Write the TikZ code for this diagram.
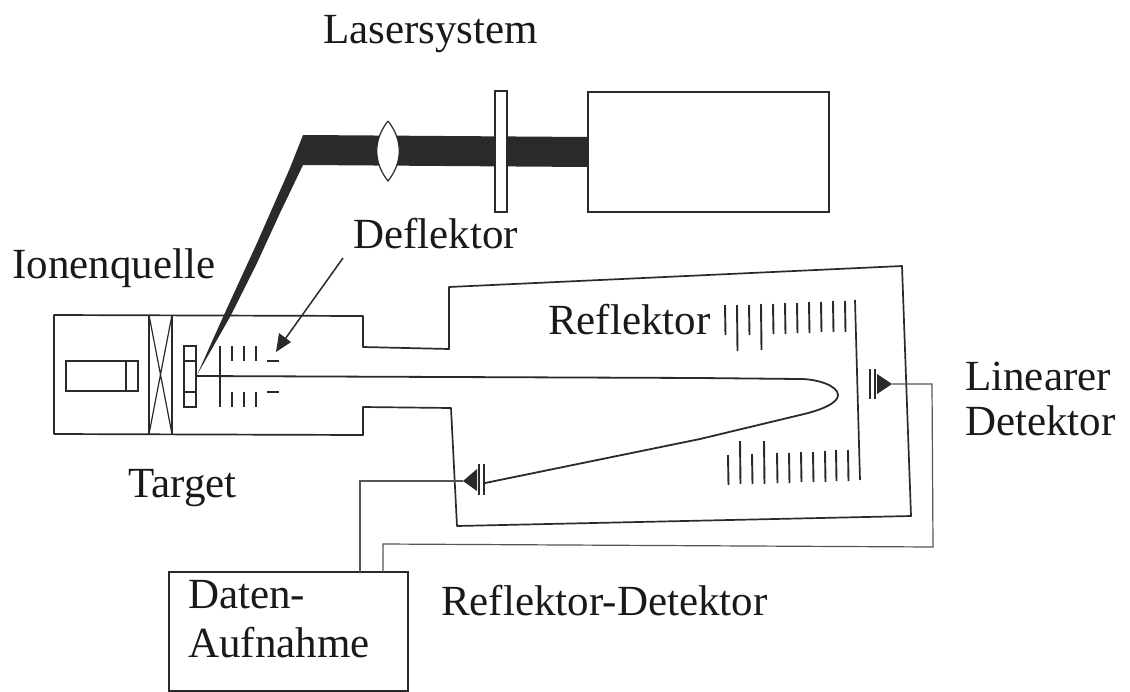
\documentclass[tikz,border=0pt]{standalone}
\usepackage{fontspec}
\setmainfont{Liberation Serif}
\definecolor{ink}{HTML}{2A2A2A}
\definecolor{wire}{HTML}{555555}
\tikzset{
  x=1pt,y=-1pt,
  line/.style={draw=ink,line width=1.7pt,line join=round},
  thinline/.style={draw=wire,line width=1.2pt,line join=miter},
  grid/.style={draw=ink,line width=1.9pt},
  box/.style={draw=ink,line width=1.3pt,fill=white,inner sep=0pt,outer sep=0pt,anchor=north west},
  lab/.style={inner sep=0pt,anchor=base west,text=black!90,font=\fontsize{43}{43}\selectfont},
  blk/.style={fill=ink,draw=none}
}
\begin{document}
\begin{tikzpicture}
\useasboundingbox (0,0) rectangle (1130,691);
% laser beam
\fill[blk] (197,375) -- (223,317) -- (257,243) -- (290,168) -- (303,135) -- (588,137) -- (588,167) -- (303,165) -- (280,213) -- (257,263) -- (230,317) -- cycle;
% laser box, plate, lens
\node[box,minimum width=241pt,minimum height=120pt] (laser) at (588,92) {};
\node[box,minimum width=12pt,minimum height=121pt] (plate) at (495,91) {};
\draw[draw=ink,line width=1.2pt,fill=white] (388,121) .. controls (373,140) and (373,162) .. (388,181) .. controls (403,162) and (403,140) .. (388,121);
% vacuum housing
\draw[line] (54,315) -- (363,316) -- (363,347) -- (449,349) -- (449,287) -- (902,266) -- (911,516) -- (457,526) -- (451,408) -- (363,407) -- (363,435) -- (54,434) -- cycle;
% ion source
\node[box,minimum width=72pt,minimum height=30pt] (source) at (66,361) {};
\draw[line] (126,361) -- (126,391);
\draw[line] (149,315) -- (149,434) (172,315) -- (172,434);
\draw[line,line width=1.2pt] (149,315) -- (172,434) (172,315) -- (149,434);
% target
\node[box,minimum width=12pt,minimum height=61pt] (target) at (184,346) {};
\draw[line,line width=1.3pt] (184,361) -- (196,361) (184,392) -- (196,392);
% extraction grids
\draw[grid] (220,346) -- (220,407);
\foreach \xx in {232,244,256} \draw[grid] (\xx,346) -- (\xx,361) (\xx,392) -- (\xx,407);
\draw[grid] (267,361) -- (279,361) (267,392) -- (279,392);
% ion path
\coordinate (start) at (197,376);
\coordinate (ret) at (485,483);
\draw[line,line width=1.8pt] (start) -- (700,378) -- (800,379) .. controls (818,379) and (838,386) .. (838,395) .. controls (838,403) and (822,410) .. (800,415) -- (700,439) -- (ret);
% deflector arrow
\coordinate (arrS) at (343,258);
\coordinate (arrE) at (276,352);
\draw[draw=ink,line width=1.5pt] (arrS) -- (283,342);
\fill[ink] (arrE) -- (279,333) -- (291,342) -- cycle;
% reflector grids
\foreach \xx/\yy/\zz in {725/305/335,737/305/351,749/305/335,761/304/350,773/304/334,785/303/334,797/303/333,809/302/333,821/302/332,833/301/332,845/301/332}
  \draw[grid] (\xx,\yy) -- (\xx+.5,\zz);
\foreach \xx/\yy/\zz in {728/455/485,740/441/484,752/454/484,764/441/484,777/453/483,789/453/483,801/452/482,813/452/482,825/451/482,836/450/481,848/450/481}
  \draw[grid] (\xx,\yy) -- (\xx+.5,\zz);
\draw[line] (855,300) -- (860,480);
% linear detector
\coordinate (ltip) at (892,384);
\fill[blk] (ltip) -- (877,374) -- (877,394) -- cycle;
\draw[grid,line width=1.3pt] (870,369) -- (870,399) (875,369) -- (875,399);
% reflector detector
\coordinate (rtip) at (463,481);
\fill[blk] (rtip) -- (477,469) -- (477,491) -- cycle;
\draw[grid,line width=1.3pt] (479,464) -- (479,495) (484,464) -- (484,495);
% data box and wires
\node[box,minimum width=239pt,minimum height=119pt] (daq) at (169,572) {};
\coordinate (w1) at (360,572);
\coordinate (w2) at (383,572);
\draw[thinline] (rtip) -- (360,481) -- (w1);
\draw[thinline] (w2) -- (383,544) -- (933,547) -- (932,384) -- (ltip);
% labels
\node[lab] (tLaser) at (323,43) {Lasersystem};
\node[lab] (tDefl) at (353,248) {Deflektor};
\node[lab] (tIon) at (12,278) {Ionenquelle};
\node[lab] (tRefl) at (548,334) {Reflektor};
\node[lab] (tLin1) at (965,390) {Linearer};
\node[lab] (tLin2) at (965,435) {Detektor};
\node[lab] (tTarget) at (128,497) {Target};
\node[lab] (tDaten) at (188,608) {Daten-};
\node[lab] (tAuf) at (188,657) {Aufnahme};
\node[lab] (tRD) at (441,615) {Reflektor-Detektor};
\end{tikzpicture}
\end{document}
